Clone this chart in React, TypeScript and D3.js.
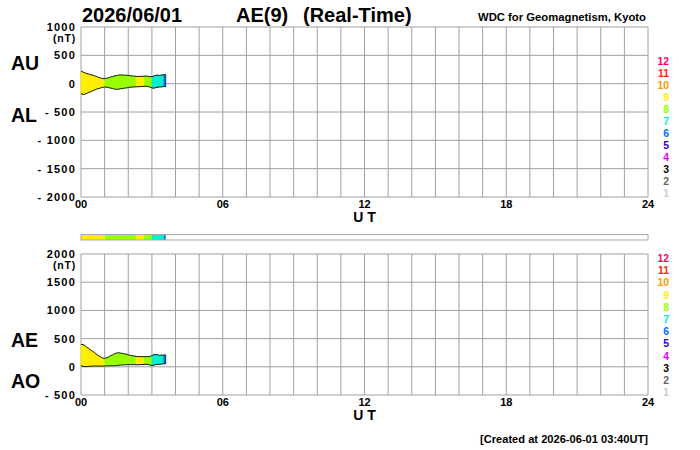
import React from 'react';
import * as d3 from 'd3';

const STEP_MIN = 5;
// AU (nT), 5-minute samples from 00:00 to 03:35 UT
const AU = [222, 204, 192, 176, 170, 156, 151, 138, 126, 108, 101, 90, 88, 96, 104, 117, 124, 137, 143, 151, 154, 153, 149, 150, 144, 141, 136, 134, 127, 126, 131, 127, 133, 134, 131, 124, 123, 136, 147, 151, 144, 153, 157, 160];
// AL (nT)
const AL = [-172, -192, -184, -171, -153, -141, -123, -111, -94, -86, -74, -66, -58, -63, -69, -79, -84, -96, -99, -99, -89, -86, -79, -76, -67, -63, -59, -59, -54, -56, -51, -51, -47, -46, -49, -61, -74, -81, -69, -63, -57, -56, -51, -50];
// activity level of each 5-minute interval
const LEVELS = [9, 9, 9, 9, 9, 9, 9, 9, 9, 9, 9, 9, 8, 8, 8, 8, 8, 8, 8, 8, 8, 8, 8, 8, 8, 8, 8, 8, 9, 9, 9, 9, 8, 8, 8, 8, 7, 7, 7, 7, 7, 7, 6];
const LEVEL_COLORS: Record<number, string> = {
  1: '#cccccc', 2: '#666666', 3: '#000000', 4: '#e600ff', 5: '#2a00e6', 6: '#0070ff',
  7: '#00f0cc', 8: '#99ff00', 9: '#ffee00', 10: '#ff9900', 11: '#ff2200', 12: '#ff0066',
};
const LEGEND = [12, 11, 10, 9, 8, 7, 6, 5, 4, 3, 2, 1];
const X_TICKS = [0, 6, 12, 18, 24];
const UPPER_TICKS = [1000, 500, 0, -500, -1000, -1500, -2000];
const LOWER_TICKS = [2000, 1500, 1000, 500, 0, -500];
const HOURS = d3.range(0, 25);

const FONT = '"Liberation Sans", Arial, Helvetica, sans-serif';

const fmt = (v: number) => (v < 0 ? `- ${-v}` : `${v}`);
const pad = (h: number) => (h < 10 ? `0${h}` : `${h}`);

export default function App() {
  const x = d3.scaleLinear().domain([0, 24]).range([81, 648]);
  const yU = d3.scaleLinear().domain([-2000, 1000]).range([197, 27]);
  const yL = d3.scaleLinear().domain([-500, 2000]).range([395, 254]);

  const t = AU.map((_, i) => (i * STEP_MIN) / 60);
  const AE = AU.map((u, i) => u - AL[i]);
  const AO = AU.map((u, i) => (u + AL[i]) / 2);

  const runs: { level: number; start: number; end: number }[] = [];
  LEVELS.forEach((lv, i) => {
    const last = runs[runs.length - 1];
    if (last && last.level === lv) last.end = i + 1;
    else runs.push({ level: lv, start: i, end: i + 1 });
  });

  const mkArea = (hi: number[], lo: number[], y: d3.ScaleLinear<number, number>) =>
    d3
      .area<number>()
      .x((i) => x(t[i]))
      .y0((i) => y(lo[i]))
      .y1((i) => y(hi[i]));
  const mkLine = (v: number[], y: d3.ScaleLinear<number, number>) =>
    d3
      .line<number>()
      .x((i) => x(t[i]))
      .y((i) => y(v[i]));

  const idx = d3.range(AU.length);
  const last = AU.length - 1;

  const panel = (
    hi: number[],
    lo: number[],
    y: d3.ScaleLinear<number, number>,
    ticks: number[],
    key: string
  ) => {
    const [y0] = y.range();
    const y1 = y.range()[1];
    const area = mkArea(hi, lo, y);
    return (
      <g key={key}>
        {HOURS.map((h) => (
          <line key={'v' + h} x1={x(h)} x2={x(h)} y1={y0} y2={y1} stroke="#a0a0a0" strokeWidth={1} />
        ))}
        {ticks.map((v) => (
          <line key={'h' + v} x1={x(0)} x2={x(24)} y1={y(v)} y2={y(v)} stroke="#a0a0a0" strokeWidth={1} />
        ))}
        {runs.map((r, k) => (
          <path
            key={'a' + k}
            d={area(d3.range(r.start, r.end + 1)) || ''}
            fill={LEVEL_COLORS[r.level]}
            stroke={LEVEL_COLORS[r.level]}
            strokeWidth={0.4}
          />
        ))}
        <path d={mkLine(hi, y)(idx) || ''} fill="none" stroke="#000" strokeWidth={0.9} />
        <path d={mkLine(lo, y)(idx) || ''} fill="none" stroke="#000" strokeWidth={0.9} />
        <line x1={x(t[last])} x2={x(t[last])} y1={y(hi[last])} y2={y(lo[last])} stroke="#334" strokeWidth={0.9} />
        {ticks.map((v) => (
          <text
            key={'t' + v}
            x={76}
            y={y(v)}
            dy="0.36em"
            textAnchor="end"
            fontSize={11}
            fontWeight="bold"
            letterSpacing={1.2}
          >
            {fmt(v)}
          </text>
        ))}
        <text x={76} y={y(ticks[0]) + 11.5} dy="0.36em" textAnchor="end" fontSize={10.5} fontWeight="bold" letterSpacing={0.8}>
          (nT)
        </text>
        {X_TICKS.map((h) => (
          <text key={'x' + h} x={x(h)} y={y0 + 11} textAnchor="middle" fontSize={11} fontWeight="bold">
            {pad(h)}
          </text>
        ))}
        <text x={x(12)} y={y0 + 25} textAnchor="middle" fontSize={14} fontWeight="bold">
          U T
        </text>
      </g>
    );
  };

  return (
    <svg
      width={700}
      height={450}
      viewBox="0 0 700 450"
      style={{ position: 'absolute', left: 0, top: 0, background: '#fff' }}
      fontFamily={FONT}
    >
      <rect x={0} y={0} width={700} height={450} fill="#fff" />
      <text x={82} y={21.5} fontSize={20} fontWeight="bold">2026/06/01</text>
      <text x={236} y={21.5} fontSize={20} fontWeight="bold">AE(9)</text>
      <text x={303} y={21.5} fontSize={20} fontWeight="bold">(Real-Time)</text>
      <text x={478} y={20.5} fontSize={10.5} fontWeight="bold" textLength={168} lengthAdjust="spacingAndGlyphs">
        WDC for Geomagnetism, Kyoto
      </text>

      {panel(AU, AL, yU, UPPER_TICKS, 'upper')}
      {panel(AE, AO, yL, LOWER_TICKS, 'lower')}

      <text x={11} y={70} fontSize={19.5} fontWeight="bold">AU</text>
      <text x={11} y={121.5} fontSize={19.5} fontWeight="bold">AL</text>
      <text x={11} y={347} fontSize={19.5} fontWeight="bold">AE</text>
      <text x={11} y={388} fontSize={19.5} fontWeight="bold">AO</text>

      {/* activity colour bar */}
      <rect x={x(0)} y={234.5} width={x(24) - x(0)} height={5.5} fill="#fff" />
      {runs.map((r, k) => (
        <rect
          key={'b' + k}
          x={x(t[r.start])}
          y={234.5}
          width={x(t[r.end]) - x(t[r.start])}
          height={5.5}
          fill={LEVEL_COLORS[r.level]}
        />
      ))}
      <rect x={x(0)} y={234.5} width={x(24) - x(0)} height={5.5} fill="none" stroke="#a8a8a8" strokeWidth={1} />

      {LEGEND.map((lv, i) => (
        <text key={'lu' + lv} x={669} y={61.7 + i * 12} dy="0.36em" textAnchor="end" fontSize={10.4} fontWeight="bold" fill={LEVEL_COLORS[lv]}>
          {lv}
        </text>
      ))}
      {LEGEND.map((lv, i) => (
        <text key={'ll' + lv} x={669} y={258.3 + i * 12.2} dy="0.36em" textAnchor="end" fontSize={10.4} fontWeight="bold" fill={LEVEL_COLORS[lv]}>
          {lv}
        </text>
      ))}

      <text x={480} y={443} fontSize={11} fontWeight="bold" textLength={168} lengthAdjust="spacingAndGlyphs">
        [Created at 2026-06-01 03:40UT]
      </text>
    </svg>
  );
}
